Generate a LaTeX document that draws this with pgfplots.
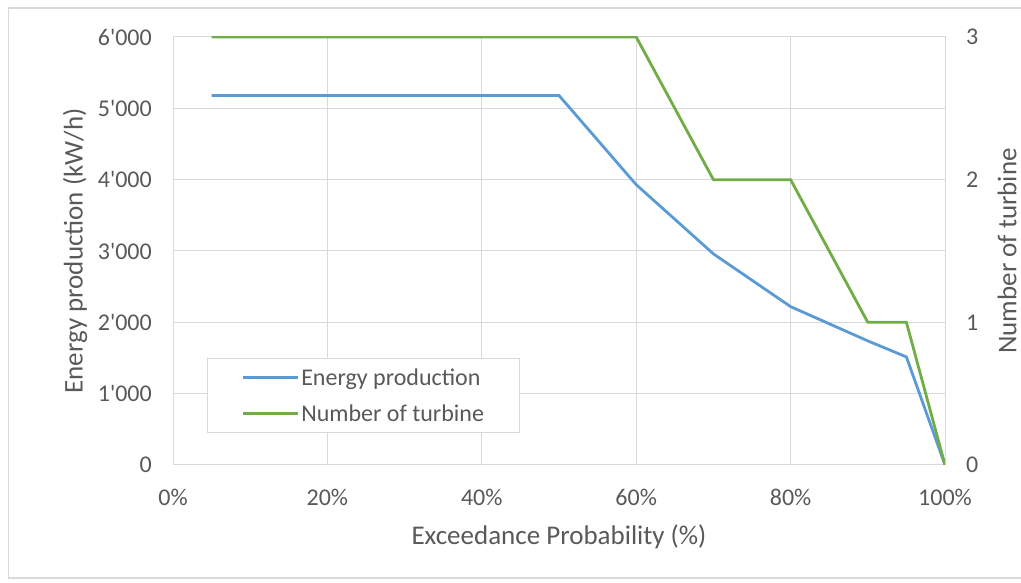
\documentclass[border=0pt]{standalone}
\usepackage{pgfplots}
\pgfplotsset{compat=1.18}
\usepackage{fontspec}
\setmainfont{Carlito}
\definecolor{eblue}{HTML}{5B9BD5}
\definecolor{egreen}{HTML}{70AD47}
\definecolor{tgray}{HTML}{595959}
\definecolor{ggray}{HTML}{D9D9D9}
\begin{document}
\begin{tikzpicture}[x=1pt,y=1pt]
\useasboundingbox (0,0) rectangle (1021,583);
\draw[ggray, line width=1.2pt] (1030,575) -- (8.5,575) -- (8.5,5) -- (1030,5);
\pgfplotsset{
  common/.style={
    scale only axis, width=772pt, height=428pt,
    at={(173pt,118pt)}, anchor=south west,
    xmin=0, xmax=100,
    /pgf/number format/assume math mode=true,
    tick style={draw=none},
    every tick label/.append style={font=\fontsize{24}{28}\selectfont, text=tgray},
  }
}
\begin{axis}[common,
  ymin=0, ymax=6000,
  ytick={0,1000,2000,3000,4000,5000,6000},
  yticklabels={0,1\textquotesingle000,2\textquotesingle000,3\textquotesingle000,4\textquotesingle000,5\textquotesingle000,6\textquotesingle000},
  xtick={0,20,40,60,80,100},
  xticklabels={0\%,20\%,40\%,60\%,80\%,100\%},
  xmajorgrids, ymajorgrids,
  grid style={ggray, line width=1pt},
  axis line style={ggray, line width=1pt},
  yticklabel style={anchor=east, inner sep=0pt, xshift=-21pt},
  xticklabel style={anchor=center, inner sep=0pt, yshift=-32pt},
  xlabel={Exceedance Probability (\%)},
  ylabel={Energy production (kW/h)},
  every axis x label/.style={at={(rel axis cs:0.5,0)}, anchor=center, yshift=-72pt,
     font=\fontsize{27}{31}\selectfont, text=tgray},
  every axis y label/.style={at={(rel axis cs:0,0.5)}, anchor=center, xshift=-98pt, rotate=90,
     font=\fontsize{27}{31}\selectfont, text=tgray},
  legend style={at={(0.044,0.25)}, anchor=north west, draw=ggray, line width=1pt,
    font=\fontsize{24}{28}\selectfont, text=tgray, inner xsep=34pt, inner ysep=8pt,
    row sep=14pt, cells={anchor=west}},
  legend image code/.code={\draw[#1] (0pt,0pt) -- (55pt,0pt);},
]
\addplot[eblue, line width=2.8pt] coordinates {
(5,5180) (50,5180) (60,3930) (70,2960) (80,2220) (90,1740) (95,1515) (100,0)};
\addlegendentry{Energy production}
\addlegendimage{egreen, line width=2.8pt}
\addlegendentry{Number of turbine}
\end{axis}
\begin{axis}[common,
  ymin=0, ymax=3,
  ytick={0,1,2,3},
  xtick=\empty,
  axis x line=none,
  axis y line*=right,
  axis line style={ggray, line width=1pt},
  yticklabel style={anchor=west, inner sep=0pt, xshift=21pt},
  ylabel={Number of turbine},
  every axis y label/.style={at={(rel axis cs:1,0.5)}, anchor=center, xshift=62pt, rotate=90,
     font=\fontsize{27}{31}\selectfont, text=tgray},
]
\addplot[egreen, line width=2.8pt] coordinates {
(5,3) (60,3) (70,2) (80,2) (90,1) (95,1) (100,0)};
\end{axis}
\end{tikzpicture}
\end{document}
